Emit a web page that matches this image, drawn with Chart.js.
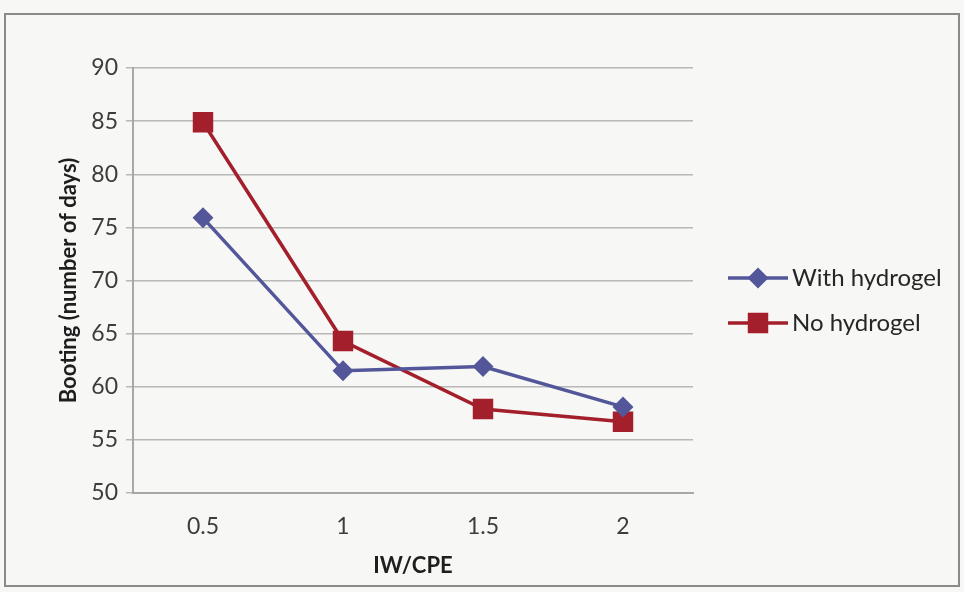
<!DOCTYPE html>
<html>
<head>
<meta charset="utf-8">
<script src="https://cdn.jsdelivr.net/npm/chart.js@4.4.0/dist/chart.umd.min.js"></script>
<style>
  html, body { margin: 0; padding: 0; background: #f7f7f5; }
  #wrap { width: 964px; height: 592px; position: relative; }
</style>
</head>
<body>
<div id="wrap"><canvas id="chart" width="964" height="592"></canvas></div>
<script>
// Data
const categories = ['0.5', '1', '1.5', '2'];
const withHydrogel = [75.9, 61.5, 61.9, 58.1];
const noHydrogel = [84.9, 64.3, 57.9, 56.7];
const seriesNames = ['With hydrogel', 'No hydrogel'];
const yTicks = { min: 50, max: 90, step: 5 };

const BLUE = '#53579a';
const RED = '#a41f2c';
const FONT = 'Lato, "Open Sans", sans-serif';

// Excel-like legend on the right (line + marker + label) and the outer frame
const sideLegend = {
    id: 'sideLegend',
    afterDraw(chart) {
        const ctx = chart.ctx;
        const x0 = 728;
        const rows = [278, 323];
        ctx.save();
        chart.data.datasets.forEach((ds, i) => {
            const y = rows[i];
            ctx.strokeStyle = ds.borderColor;
            ctx.lineWidth = 3.5;
            ctx.beginPath();
            ctx.moveTo(x0, y);
            ctx.lineTo(x0 + 60, y);
            ctx.stroke();
            ctx.fillStyle = ds.pointBackgroundColor;
            ctx.strokeStyle = ds.pointBorderColor;
            Chart.helpers.drawPoint(ctx, {
                pointStyle: ds.pointStyle,
                radius: ds.pointRadius,
                borderWidth: 1
            }, x0 + 30, y);
            ctx.fillStyle = '#262626';
            ctx.font = '24px ' + FONT;
            ctx.textBaseline = 'middle';
            ctx.fillText(ds.label, x0 + 64, y);
        });
        ctx.strokeStyle = '#8a8a8a';
        ctx.lineWidth = 2;
        ctx.strokeRect(5, 14, 954, 572);
        ctx.restore();
    }
};

new Chart(document.getElementById('chart'), {
    type: 'line',
    data: {
        labels: categories,
        datasets: [
            {
                label: seriesNames[0],
                data: withHydrogel,
                borderColor: BLUE,
                backgroundColor: BLUE,
                pointBackgroundColor: BLUE,
                pointBorderColor: BLUE,
                pointStyle: 'rectRot',
                pointRadius: 8,
                borderWidth: 3.5,
                tension: 0
            },
            {
                label: seriesNames[1],
                data: noHydrogel,
                borderColor: RED,
                backgroundColor: RED,
                pointBackgroundColor: RED,
                pointBorderColor: RED,
                pointStyle: 'rect',
                pointRadius: 12,
                borderWidth: 3.5,
                tension: 0
            }
        ]
    },
    options: {
        responsive: false,
        animation: false,
        layout: { padding: { left: 10, right: 271, top: 68, bottom: 10 } },
        plugins: {
            legend: { display: false },
            tooltip: { enabled: false }
        },
        scales: {
            x: {
                offset: true,
                afterFit(scale) { scale.height = 89; },
                grid: { display: false, drawTicks: false },
                border: { color: '#a8a8a8', width: 2 },
                ticks: { color: '#3c3c3c', font: { family: FONT, size: 23 }, padding: 20 },
                title: {
                    display: true,
                    text: 'IW/CPE',
                    color: '#1e1e1e',
                    font: { family: FONT, size: 22, weight: 'bold' },
                    padding: { top: 0, bottom: 3 }
                }
            },
            y: {
                min: yTicks.min,
                max: yTicks.max,
                afterFit(scale) { scale.width = 123; },
                ticks: {
                    stepSize: yTicks.step,
                    color: '#3c3c3c',
                    font: { family: FONT, size: 23 },
                    padding: 8
                },
                grid: { color: '#b8b8b8', lineWidth: 1.5, tickLength: 7 },
                border: { color: '#a8a8a8', width: 2 },
                title: {
                    display: true,
                    text: 'Booting (number of days)',
                    color: '#1e1e1e',
                    font: { family: FONT, size: 22, weight: 'bold' },
                    padding: { top: 46, bottom: 0 }
                }
            }
        }
    },
    plugins: [sideLegend]
});
</script>
</body>
</html>
